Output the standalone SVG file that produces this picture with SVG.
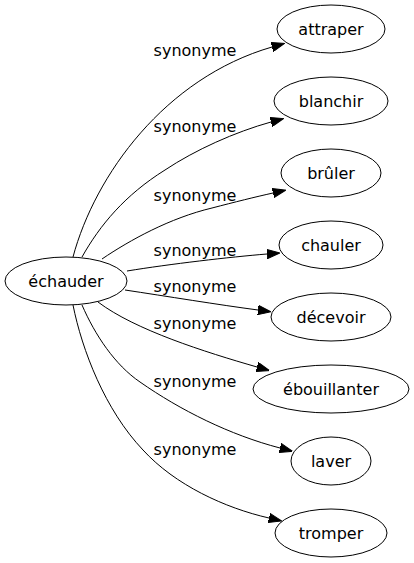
<svg xmlns="http://www.w3.org/2000/svg" width="414" height="563" viewBox="0 0 414 563">
<style>
.n ellipse{fill:none;stroke:#000;stroke-width:1}
text{font-family:"DejaVu Sans",sans-serif;font-size:16px;fill:#000;text-anchor:middle}
.e path{fill:none;stroke:#000;stroke-width:1;marker-end:url(#arr)}
</style>
<defs>
<marker id="arr" viewBox="0 0 13 10" refX="0" refY="5" markerWidth="13" markerHeight="10" markerUnits="userSpaceOnUse" orient="auto">
<path d="M0,0.3 L13,5 L0,9.7 Z" fill="#000" stroke="#000" stroke-width="1"/>
</marker>
</defs>
<rect width="414" height="563" fill="#fff"/>
<g id="connectors" class="e">
<path d="M73,257 C95,175 165,78 272,47"/>
<path d="M82,257 C100,225 125,195 165,170 C195,150 235,132 271,122"/>
<path d="M102,259 C130,240 170,218 212,208 C235,202 255,197 273,193"/>
<path d="M127,271 C170,264 230,257 267,254"/>
<path d="M125,290 C165,296 220,305 258,310"/>
<path d="M98,302 C135,330 205,352 257,367"/>
<path d="M82,305 C95,335 115,365 140,382 C180,410 230,435 280,448"/>
<path d="M73,305 C82,350 105,410 143,450 C175,485 225,508 269,518"/>
</g>
<g id="edge-labels">
<text x="195" y="56">synonyme</text>
<text x="195" y="132">synonyme</text>
<text x="195" y="201">synonyme</text>
<text x="195" y="256">synonyme</text>
<text x="195" y="292">synonyme</text>
<text x="195" y="329">synonyme</text>
<text x="195" y="387">synonyme</text>
<text x="195" y="455">synonyme</text>
</g>
<g id="echauder" class="n"><ellipse cx="66" cy="281" rx="61" ry="24"/><text x="66" y="287">échauder</text></g>
<g id="attraper" class="n"><ellipse cx="331" cy="29" rx="54" ry="24"/><text x="331" y="35">attraper</text></g>
<g id="blanchir" class="n"><ellipse cx="331" cy="101" rx="57" ry="24"/><text x="331" y="107">blanchir</text></g>
<g id="bruler" class="n"><ellipse cx="331" cy="173" rx="50" ry="24"/><text x="331" y="179">brûler</text></g>
<g id="chauler" class="n"><ellipse cx="331" cy="245" rx="52" ry="24"/><text x="331" y="251">chauler</text></g>
<g id="decevoir" class="n"><ellipse cx="331" cy="317" rx="60" ry="24"/><text x="331" y="323">décevoir</text></g>
<g id="ebouillanter" class="n"><ellipse cx="331" cy="389" rx="78" ry="24"/><text x="331" y="395">ébouillanter</text></g>
<g id="laver" class="n"><ellipse cx="331" cy="461" rx="40" ry="24"/><text x="331" y="467">laver</text></g>
<g id="tromper" class="n"><ellipse cx="331" cy="533" rx="56" ry="24"/><text x="331" y="539">tromper</text></g>
</svg>
